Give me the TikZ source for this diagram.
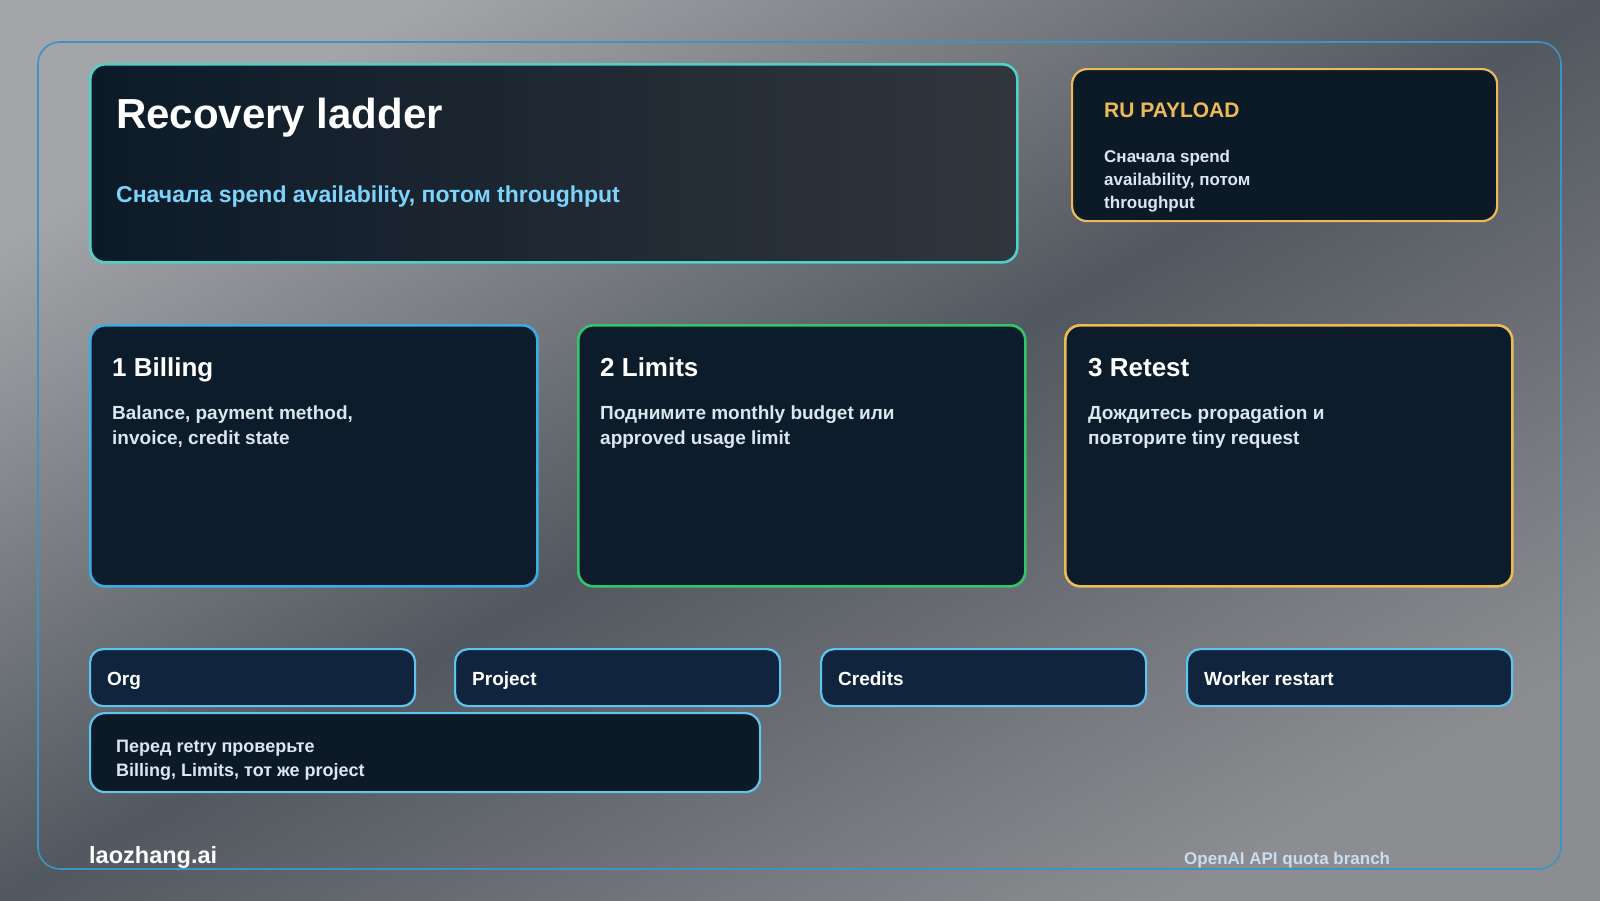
\documentclass[tikz,border=0pt]{standalone}
\usepackage{fontspec}
\setmainfont{Liberation Sans}
\definecolor{bgA}{HTML}{A3A5A8}
\definecolor{bgB}{HTML}{52585F}
\definecolor{bgC}{HTML}{8C8D91}
\definecolor{frameC}{HTML}{3C93C4}
\definecolor{tealC}{HTML}{4FD1C5}
\definecolor{goldC}{HTML}{EDBB55}
\definecolor{blueC}{HTML}{3AADE6}
\definecolor{greenC}{HTML}{34C46C}
\definecolor{chipC}{HTML}{5EC4F0}
\definecolor{cardF}{HTML}{0D1C2A}
\definecolor{chipF}{HTML}{10253D}
\definecolor{noteF}{HTML}{0C1A28}
\definecolor{headR}{HTML}{31363D}
\definecolor{subC}{HTML}{7DD3FC}
\definecolor{bodyC}{HTML}{DCE6EF}
\definecolor{footC}{HTML}{C9DDEE}
\begin{document}
\begin{tikzpicture}[x=1pt,y=-1pt,
  box/.style={anchor=north west, rounded corners=15pt, line width=2.6pt, inner sep=0pt},
  cardbox/.style={box, fill=cardF, minimum width=447, minimum height=261},
  chipbox/.style={box, rounded corners=13pt, fill=chipF, draw=chipC, line width=2.2pt, minimum width=325, minimum height=57},
  txt/.style={anchor=base west, inner sep=0pt, font=\bfseries},
  cardtitle/.style={txt, text=white, font=\bfseries\fontsize{26}{30}\selectfont},
  cardbody/.style={txt, text=bodyC, font=\bfseries\fontsize{19}{22}\selectfont},
  chiptext/.style={txt, text=white, font=\bfseries\fontsize{19}{22}\selectfont},
  rutext/.style={txt, text=bodyC, font=\bfseries\fontsize{17}{20}\selectfont},
  notetext/.style={txt, text=bodyC, font=\bfseries\fontsize{18}{21}\selectfont}]
\useasboundingbox (0,0) rectangle (1600,900);
\shade[top color=bgA, bottom color=bgC, middle color=bgB, shading angle=29.4] (0,0) rectangle (1600,900);
\draw[frameC, line width=1.6pt, rounded corners=22pt] (38,42) rectangle (1561,869);

% header
\node[box, draw=tealC, left color=noteF, right color=headR, minimum width=927, minimum height=198] (head) at (89,63) {};
\node[txt, text=white, font=\bfseries\fontsize{42}{48}\selectfont] (title) at (116,128) {Recovery ladder};
\node[txt, text=subC, font=\bfseries\fontsize{23}{27}\selectfont] (sub) at (116,202) {Сначала spend availability, потом throughput};

% RU payload
\node[box, draw=goldC, line width=2.2pt, fill=noteF, minimum width=425, minimum height=152] (ru) at (1071,68) {};
\node[txt, text=goldC, font=\bfseries\fontsize{21}{25}\selectfont] (rut) at (1104,117) {RU PAYLOAD};
\node[rutext] (ru1) at (1104,162) {Сначала spend};
\node[rutext] (ru2) at (1104,185) {availability, потом};
\node[rutext] (ru3) at (1104,208) {throughput};

% cards
\node[cardbox, draw=blueC] (c1) at (89,324) {};
\node[cardbox, draw=greenC] (c2) at (577,324) {};
\node[cardbox, draw=goldC] (c3) at (1064,324) {};
\node[cardtitle] (c1t) at (112,376) {1 Billing};
\node[cardbody] (c1a) at (112,419) {Balance, payment method,};
\node[cardbody] (c1b) at (112,444) {invoice, credit state};
\node[cardtitle] (c2t) at (600,376) {2 Limits};
\node[cardbody] (c2a) at (600,419) {Поднимите monthly budget или};
\node[cardbody] (c2b) at (600,444) {approved usage limit};
\node[cardtitle] (c3t) at (1088,376) {3 Retest};
\node[cardbody] (c3a) at (1088,419) {Дождитесь propagation и};
\node[cardbody] (c3b) at (1088,444) {повторите tiny request};

% chips
\node[chipbox] (org) at (89,648) {};
\node[chipbox] (proj) at (454,648) {};
\node[chipbox] (cred) at (820,648) {};
\node[chipbox] (work) at (1186,648) {};
\node[chiptext] (orgt) at (107,685) {Org};
\node[chiptext] (projt) at (472,685) {Project};
\node[chiptext] (credt) at (838,685) {Credits};
\node[chiptext] (workt) at (1204,685) {Worker restart};

% note
\node[box, rounded corners=15pt, fill=noteF, draw=chipC, line width=2.2pt, minimum width=670, minimum height=79] (note) at (89,712) {};
\node[notetext] (n1) at (116,752) {Перед retry проверьте};
\node[notetext] (n2) at (116,776) {Billing, Limits, тот же project};

% footer
\node[txt, text=white, font=\bfseries\fontsize{23.5}{27}\selectfont] (brand) at (89,863) {laozhang.ai};
\node[txt, text=footC, font=\bfseries\fontsize{17}{20}\selectfont] (foot) at (1184,864) {OpenAI API quota branch};
\end{tikzpicture}
\end{document}
